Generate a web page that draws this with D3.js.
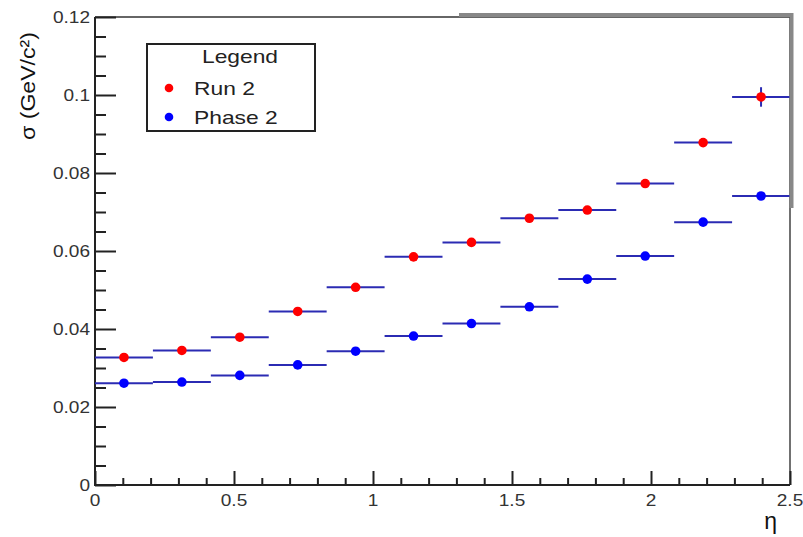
<!DOCTYPE html>
<html>
<head>
<meta charset="utf-8">
<script src="https://cdn.jsdelivr.net/npm/d3@7"></script>
<style>
  html, body { margin: 0; padding: 0; background: #fff; }
  svg { display: block; }
  text { font-family: "Liberation Sans", Arial, sans-serif; fill: #222; }
</style>
</head>
<body>
<svg id="chart" width="803" height="537"></svg>
<script>
// ---- data ----
const binEdges = [0, 0.2083, 0.4167, 0.625, 0.8333, 1.0417, 1.25, 1.4583, 1.6667, 1.875, 2.0833, 2.2917, 2.5];
const run2 = [0.0327, 0.0345, 0.0379, 0.0445, 0.0507, 0.0585, 0.0622, 0.0684, 0.0705, 0.0773, 0.0878, 0.0995];
const run2Err = [0.0004, 0.0004, 0.0004, 0.0005, 0.0005, 0.0006, 0.0006, 0.0007, 0.0008, 0.0009, 0.0010, 0.0025];
const phase2 = [0.0261, 0.0264, 0.0281, 0.0308, 0.0343, 0.0382, 0.0414, 0.0457, 0.0528, 0.0587, 0.0674, 0.0741];
const phase2Err = [0.0003, 0.0003, 0.0003, 0.0003, 0.0004, 0.0004, 0.0004, 0.0005, 0.0005, 0.0006, 0.0007, 0.0008];
const xTicks = [0, 0.5, 1, 1.5, 2, 2.5];
const xTickLabels = ["0", "0.5", "1", "1.5", "2", "2.5"];
const yTicks = [0, 0.02, 0.04, 0.06, 0.08, 0.1, 0.12];
const yTickLabels = ["0", "0.02", "0.04", "0.06", "0.08", "0.1", "0.12"];
const seriesNames = ["Run 2", "Phase 2"];

const svg = d3.select("#chart");
const x = d3.scaleLinear().domain([0, 2.5]).range([95, 790]);
const y = d3.scaleLinear().domain([0, 0.12]).range([485, 17]);

function stretch(sel, f) {
  sel.each(function () {
    const w = this.getComputedTextLength();
    d3.select(this).attr("textLength", w * f).attr("lengthAdjust", "spacingAndGlyphs");
  });
}

// frame top & right
svg.append("line").attr("x1", x(0)).attr("x2", x(2.5)).attr("y1", y(0.12)).attr("y2", y(0.12))
  .attr("stroke", "#333").attr("stroke-width", 1.5);
svg.append("line").attr("x1", x(2.5)).attr("x2", x(2.5)).attr("y1", y(0.12)).attr("y2", y(0))
  .attr("stroke", "#111").attr("stroke-width", 1.2);

// y axis
const yAxis = d3.axisRight(y).tickValues(yTicks).tickSize(21).tickFormat("");
const gy = svg.append("g").attr("transform", `translate(${x(0)},0)`).call(yAxis);
gy.select(".domain").remove();
gy.selectAll(".tick line").attr("stroke", "#222").attr("stroke-width", 2);
const yMinor = d3.axisRight(y).tickValues(d3.range(0, 0.1201, 0.005).filter(v => Math.abs(v / 0.02 - Math.round(v / 0.02)) > 1e-6)).tickSize(11).tickFormat("");
const gym = svg.append("g").attr("transform", `translate(${x(0)},0)`).call(yMinor);
gym.select(".domain").remove();
gym.selectAll(".tick line").attr("stroke", "#222").attr("stroke-width", 2);
svg.append("line").attr("x1", x(0)).attr("x2", x(0)).attr("y1", y(0.12)).attr("y2", y(0) + 1)
  .attr("stroke", "#222").attr("stroke-width", 2);

// x axis
const xAxis = d3.axisTop(x).tickValues(xTicks).tickSize(14).tickFormat("");
const gx = svg.append("g").attr("transform", `translate(0,${y(0)})`).call(xAxis);
gx.select(".domain").remove();
gx.selectAll(".tick line").attr("stroke", "#222").attr("stroke-width", 2);
const xMinor = d3.axisTop(x).tickValues(d3.range(0.1, 2.45, 0.1).filter(v => Math.abs(v / 0.5 - Math.round(v / 0.5)) > 1e-6)).tickSize(7).tickFormat("");
const gxm = svg.append("g").attr("transform", `translate(0,${y(0)})`).call(xMinor);
gxm.select(".domain").remove();
gxm.selectAll(".tick line").attr("stroke", "#222").attr("stroke-width", 2);
svg.append("line").attr("x1", x(0) - 1).attr("x2", x(2.5)).attr("y1", y(0)).attr("y2", y(0))
  .attr("stroke", "#222").attr("stroke-width", 2);

// tick labels
const yl = svg.append("g").selectAll("text").data(yTicks).join("text")
  .attr("x", 90).attr("y", d => y(d) + 6).attr("text-anchor", "end")
  .style("font-size", "17px").style("fill", "#333")
  .text((d, i) => yTickLabels[i]);
stretch(yl, 1.12);
const xl = svg.append("g").selectAll("text").data(xTicks).join("text")
  .attr("x", d => x(d)).attr("y", 506).attr("text-anchor", "middle")
  .style("font-size", "17px").style("fill", "#333")
  .text((d, i) => xTickLabels[i]);
stretch(xl, 1.12);

// axis titles
svg.append("text").attr("transform", "translate(35,32) rotate(-90)")
  .attr("text-anchor", "end").style("font-size", "20px").style("fill", "#111")
  .attr("textLength", 108).attr("lengthAdjust", "spacingAndGlyphs")
  .text("σ (GeV/c²)");
svg.append("text").attr("x", 777).attr("y", 529).attr("text-anchor", "end")
  .style("font-size", "23px").style("fill", "#111").text("η");

// data
const errColor = "#2b2bb3";
function drawSeries(vals, errs, color) {
  const g = svg.append("g");
  const idx = d3.range(vals.length);
  g.selectAll("line.h").data(idx).join("line").attr("class", "h")
    .attr("x1", i => x(binEdges[i])).attr("x2", i => x(binEdges[i + 1]))
    .attr("y1", i => y(vals[i])).attr("y2", i => y(vals[i]))
    .attr("stroke", errColor).attr("stroke-width", 2);
  g.selectAll("line.v").data(idx).join("line").attr("class", "v")
    .attr("x1", i => x((binEdges[i] + binEdges[i + 1]) / 2)).attr("x2", i => x((binEdges[i] + binEdges[i + 1]) / 2))
    .attr("y1", i => y(vals[i] - errs[i])).attr("y2", i => y(vals[i] + errs[i]))
    .attr("stroke", errColor).attr("stroke-width", 2);
  g.selectAll("circle").data(idx).join("circle")
    .attr("cx", i => x((binEdges[i] + binEdges[i + 1]) / 2)).attr("cy", i => y(vals[i]))
    .attr("r", 4.8).attr("fill", color);
}
drawSeries(phase2, phase2Err, "#0000ff");
drawSeries(run2, run2Err, "#ff0000");

// legend
const lg = svg.append("g");
lg.append("rect").attr("x", 147).attr("y", 44).attr("width", 168).attr("height", 87)
  .attr("fill", "#fff").attr("stroke", "#222").attr("stroke-width", 2);
const lt = lg.append("text").attr("x", 240).attr("y", 63).attr("text-anchor", "middle")
  .style("font-size", "19px").text("Legend");
stretch(lt, 1.2);
const legColors = ["#ff0000", "#0000ff"];
const legY = [88, 117];
seriesNames.forEach((n, i) => {
  lg.append("circle").attr("cx", 169).attr("cy", legY[i]).attr("r", 4.3).attr("fill", legColors[i]);
  const t = lg.append("text").attr("x", 194).attr("y", legY[i] + 7).style("font-size", "19px").text(n);
  stretch(t, 1.2);
});

// gray border artifact
svg.append("path").attr("d", "M459,15 L791.5,15 L791.5,208")
  .attr("fill", "none").attr("stroke", "#888").attr("stroke-width", 4);
</script>
</body>
</html>
